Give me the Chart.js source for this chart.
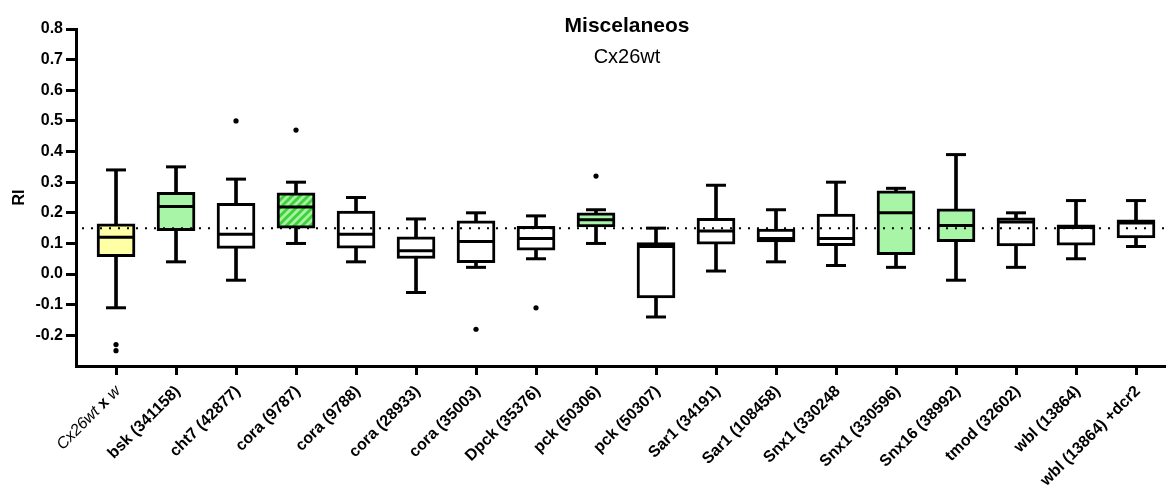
<!DOCTYPE html>
<html>
<head>
<meta charset="utf-8">
<script src="https://cdn.jsdelivr.net/npm/chart.js@4/dist/chart.umd.min.js"></script>
<style>
  html, body { margin: 0; padding: 0; background: #fff; }
  #wrap { width: 1166px; height: 485px; position: relative; }
</style>
</head>
<body>
<div id="wrap"><canvas id="box-plot"></canvas></div>
<script>
// Categories (x axis)
const categories = [
    "Cx26wt x w", "bsk (341158)", "cht7 (42877)", "cora (9787)", "cora (9788)",
    "cora (28933)", "cora (35003)", "Dpck (35376)", "pck (50306)", "pck (50307)",
    "Sar1 (34191)", "Sar1 (108458)", "Snx1 (330248", "Snx1 (330596)", "Snx16 (38992)",
    "tmod (32602)", "wbl (13864)", "wbl (13864) +dcr2"
];

// Box plot statistics
const whiskerLow  = [-0.11, 0.04, -0.02, 0.10, 0.04, -0.06, 0.022, 0.05, 0.10, -0.14, 0.01, 0.04, 0.028, 0.022, -0.02, 0.022, 0.05, 0.09];
const q1          = [0.057, 0.142, 0.084, 0.15, 0.085, 0.051, 0.037, 0.078, 0.154, -0.078, 0.098, 0.105, 0.093, 0.063, 0.106, 0.092, 0.094, 0.118];
const median      = [0.12, 0.221, 0.13, 0.219, 0.13, 0.076, 0.106, 0.116, 0.177, 0.09, 0.141, 0.116, 0.116, 0.20, 0.159, 0.17, 0.152, 0.167];
const q3          = [0.164, 0.267, 0.231, 0.265, 0.206, 0.122, 0.174, 0.156, 0.20, 0.103, 0.182, 0.147, 0.196, 0.272, 0.213, 0.184, 0.161, 0.177];
const whiskerHigh = [0.34, 0.35, 0.31, 0.30, 0.25, 0.18, 0.20, 0.19, 0.21, 0.15, 0.29, 0.21, 0.30, 0.28, 0.39, 0.20, 0.24, 0.24];
const fillKind    = ["yellow", "green", "white", "hatch", "white", "white", "white", "white", "green", "white",
                     "white", "white", "white", "green", "green", "white", "white", "white"];

// Outliers: category index and value
const outlierIndex = [0, 0, 2, 3, 6, 7, 8];
const outlierValue = [-0.23, -0.25, 0.50, 0.47, -0.18, -0.11, 0.32];

// Y axis tick labels and the dotted reference line
const yTickValues = [-0.2, -0.1, 0.0, 0.1, 0.2, 0.3, 0.4, 0.5, 0.6, 0.7, 0.8];
const refLine = 0.15;

const FONT = "'Liberation Sans', Arial, sans-serif";
Chart.defaults.font.family = FONT;
Chart.defaults.color = '#000';

// Hatched fill for the striped box
function makeHatch() {
    const c = document.createElement('canvas');
    c.width = 8; c.height = 8;
    const g = c.getContext('2d');
    g.fillStyle = '#a9f3a4';
    g.fillRect(0, 0, 8, 8);
    g.strokeStyle = '#3fd23c';
    g.lineWidth = 3;
    g.beginPath();
    g.moveTo(-2, 10); g.lineTo(10, -2);
    g.moveTo(-2, 2); g.lineTo(2, -2);
    g.moveTo(6, 10); g.lineTo(10, 6);
    g.stroke();
    return g.createPattern(c, 'repeat');
}
const hatch = makeHatch();

function fillFor(kind) {
    if (kind === 'yellow') return '#ffffa6';
    if (kind === 'green') return '#a8f5a8';
    if (kind === 'hatch') return hatch;
    return '#ffffff';
}

const LABEL_PAD = 7;
const LABEL_SHIFT = 2;

// Titles and the mixed-style first label
const extras = {
    id: 'extras',
    afterDraw(chart) {
        const ctx = chart.ctx;
        const area = chart.chartArea;
        const cx = (area.left + area.right) / 2 + 6;
        ctx.save();
        ctx.fillStyle = '#000';
        ctx.textAlign = 'center';
        ctx.textBaseline = 'alphabetic';
        ctx.font = 'bold 21px ' + FONT;
        ctx.fillText('Miscelaneos', cx, 32);
        ctx.font = '20px ' + FONT;
        ctx.fillText('Cx26wt', cx, 63);

        // first category label: "Cx26wt" italic, "x" bold, "w" italic
        const xs = chart.scales.x;
        const lh = 16 * 1.2;
        const rot = -Math.PI / 4;
        ctx.translate(xs.getPixelForValue(0) + LABEL_SHIFT + (lh / 2) * Math.sin(rot), xs.top + 9 + LABEL_PAD);
        ctx.rotate(rot);
        ctx.textAlign = 'right';
        ctx.textBaseline = 'middle';
        const parts = [['w', 'italic 16px '], [' x ', 'bold 16px '], ['Cx26wt', 'italic 16px ']];
        let x = 0;
        parts.forEach(function (p) {
            ctx.font = p[1] + FONT;
            ctx.fillText(p[0], x, lh / 2);
            x -= ctx.measureText(p[0]).width;
        });
        ctx.restore();
    }
};

const idx = categories.map((c, i) => i);

const ctx = document.getElementById('box-plot').getContext('2d');
new Chart(ctx, {
    type: 'bar',
    data: {
        datasets: [
            {
                // dotted reference line
                type: 'line',
                data: [{ x: -0.567, y: refLine }, { x: 17.5, y: refLine }],
                borderColor: '#000',
                borderWidth: 2,
                borderDash: [2, 7],
                pointRadius: 0,
                order: 0
            },
            {
                // outliers
                type: 'scatter',
                data: outlierIndex.map((c, i) => ({ x: c, y: outlierValue[i] })),
                pointRadius: 2.6,
                backgroundColor: '#000',
                borderWidth: 0,
                order: 1
            },
            {
                // medians
                type: 'scatter',
                data: idx.map(i => ({ x: i, y: median[i] })),
                pointStyle: 'line',
                pointRadius: 18,
                borderColor: '#000',
                borderWidth: 3,
                order: 2
            },
            {
                // whisker caps
                type: 'scatter',
                data: idx.map(i => ({ x: i, y: whiskerLow[i] })).concat(idx.map(i => ({ x: i, y: whiskerHigh[i] }))),
                pointStyle: 'line',
                pointRadius: 10,
                borderColor: '#000',
                borderWidth: 3,
                order: 3
            },
            {
                // boxes
                data: idx.map(i => ({ x: i, y: [q1[i], q3[i]] })),
                backgroundColor: fillKind.map(fillFor),
                borderColor: '#000',
                borderWidth: 3,
                borderSkipped: false,
                barThickness: 38,
                grouped: false,
                order: 4
            },
            {
                // whisker lines
                data: idx.map(i => ({ x: i, y: [whiskerLow[i], whiskerHigh[i]] })),
                backgroundColor: '#000',
                borderWidth: 0,
                barThickness: 3,
                grouped: false,
                order: 5
            }
        ]
    },
    options: {
        responsive: true,
        maintainAspectRatio: false,
        animation: false,
        events: [],
        layout: { autoPadding: false, padding: { top: 29, right: 0, bottom: 0, left: 0 } },
        scales: {
            x: {
                type: 'linear',
                offset: false,
                min: -0.667,
                max: 17.5,
                afterBuildTicks: function (scale) {
                    scale.ticks = idx.map(i => ({ value: i }));
                },
                afterFit: function (scale) {
                    scale.height = 119;
                    scale.paddingLeft = 0;
                    scale.paddingRight = 0;
                },
                ticks: {
                    autoSkip: false,
                    minRotation: 45,
                    maxRotation: 45,
                    padding: LABEL_PAD,
                    labelOffset: LABEL_SHIFT,
                    font: { size: 16, weight: 'bold' },
                    callback: function (value) {
                        return value === 0 ? '' : categories[value];
                    }
                },
                grid: {
                    offset: false,
                    drawOnChartArea: false,
                    color: '#000',
                    lineWidth: 3,
                    tickWidth: 3,
                    tickLength: 9
                },
                border: { display: true, color: '#000', width: 3 }
            },
            y: {
                min: -0.3,
                max: 0.8,
                afterBuildTicks: function (scale) {
                    scale.ticks = yTickValues.map(v => ({ value: v }));
                },
                afterFit: function (scale) {
                    scale.width = 76;
                },
                ticks: {
                    padding: 3,
                    font: { size: 16, weight: 'bold' },
                    callback: function (value) {
                        return value.toFixed(1);
                    }
                },
                grid: {
                    drawOnChartArea: false,
                    color: '#000',
                    lineWidth: 3,
                    tickWidth: 3,
                    tickLength: 10
                },
                border: { display: true, color: '#000', width: 3 },
                title: {
                    display: true,
                    text: 'RI',
                    font: { size: 16, weight: 'bold' },
                    padding: { top: 10, bottom: 0 }
                }
            }
        },
        plugins: {
            legend: { display: false },
            tooltip: { enabled: false }
        }
    },
    plugins: [extras]
});
</script>
</body>
</html>
